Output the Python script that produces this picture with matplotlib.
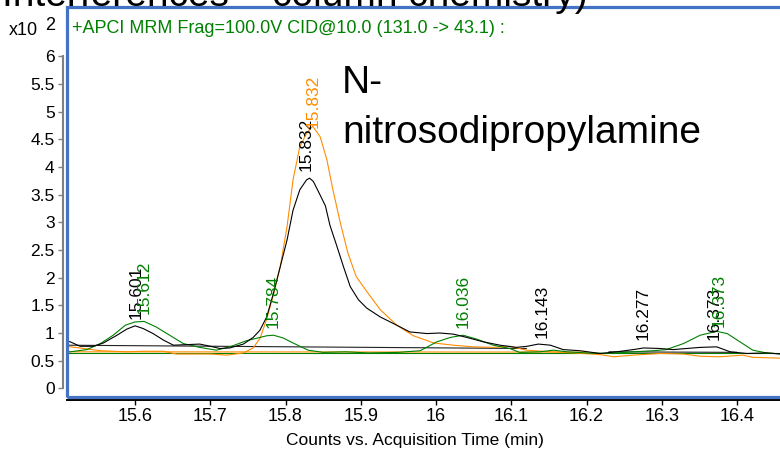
import numpy as np
import matplotlib
matplotlib.use('Agg')
import matplotlib.pyplot as plt
from matplotlib.patches import Rectangle

plt.rcParams['font.family'] = ['Liberation Sans', 'DejaVu Sans']

# retention time (min) and counts (x10^2) for each trace
t_black = [15.505, 15.514, 15.527, 15.545, 15.558, 15.576, 15.589, 15.600, 15.611, 15.624,
           15.638, 15.651, 15.669, 15.686, 15.700, 15.713, 15.726, 15.744, 15.757, 15.766,
           15.775, 15.784, 15.793, 15.802, 15.810, 15.819, 15.828, 15.832, 15.837, 15.844,
           15.853, 15.859, 15.868, 15.877, 15.886, 15.897, 15.908, 15.926, 15.948, 15.965,
           15.988, 16.005, 16.023, 16.041, 16.063, 16.085, 16.107, 16.121, 16.136, 16.152,
           16.169, 16.191, 16.218, 16.240, 16.262, 16.276, 16.298, 16.315, 16.333, 16.351,
           16.373, 16.391, 16.413, 16.439, 16.470]
y_black = [0.87, 0.84, 0.76, 0.76, 0.82, 0.96, 1.07, 1.13, 1.08, 0.99,
           0.87, 0.78, 0.79, 0.80, 0.76, 0.72, 0.73, 0.80, 0.92, 1.05,
           1.29, 1.72, 2.20, 2.68, 3.22, 3.59, 3.77, 3.80, 3.74, 3.55,
           3.30, 2.95, 2.58, 2.20, 1.84, 1.60, 1.45, 1.29, 1.14, 1.02,
           0.99, 1.00, 0.98, 0.92, 0.84, 0.78, 0.74, 0.76, 0.80, 0.78,
           0.70, 0.68, 0.63, 0.66, 0.70, 0.73, 0.72, 0.70, 0.72, 0.74,
           0.75, 0.66, 0.63, 0.64, 0.61]

t_orange = [15.505, 15.514, 15.532, 15.554, 15.589, 15.610, 15.638, 15.655, 15.700, 15.722,
            15.744, 15.757, 15.766, 15.775, 15.784, 15.793, 15.802, 15.810, 15.819, 15.828,
            15.836, 15.846, 15.855, 15.863, 15.872, 15.883, 15.894, 15.908, 15.926, 15.948,
            15.970, 15.997, 16.023, 16.050, 16.076, 16.098, 16.120, 16.152, 16.183, 16.218,
            16.236, 16.262, 16.298, 16.329, 16.351, 16.377, 16.408, 16.421, 16.470]
y_orange = [0.79, 0.75, 0.72, 0.68, 0.66, 0.67, 0.67, 0.62, 0.62, 0.60,
            0.64, 0.73, 0.90, 1.25, 1.70, 2.20, 2.92, 3.77, 4.37, 4.61,
            4.74, 4.55, 4.13, 3.59, 3.04, 2.44, 2.02, 1.75, 1.42, 1.14,
            0.95, 0.82, 0.78, 0.75, 0.74, 0.76, 0.69, 0.66, 0.64, 0.61,
            0.57, 0.60, 0.63, 0.62, 0.58, 0.57, 0.60, 0.56, 0.54]

t_green = [15.505, 15.514, 15.536, 15.554, 15.571, 15.587, 15.600, 15.612, 15.628, 15.646,
           15.664, 15.686, 15.708, 15.726, 15.748, 15.775, 15.784, 15.797, 15.810, 15.830,
           15.850, 15.880, 15.910, 15.950, 15.979, 16.001, 16.019, 16.036, 16.054, 16.076,
           16.098, 16.111, 16.138, 16.156, 16.174, 16.200, 16.227, 16.262, 16.289, 16.306,
           16.329, 16.351, 16.373, 16.387, 16.404, 16.421, 16.439, 16.470]
y_green = [0.65, 0.66, 0.70, 0.81, 0.96, 1.14, 1.20, 1.21, 1.11, 0.96,
           0.81, 0.74, 0.69, 0.75, 0.86, 0.95, 0.96, 0.91, 0.82, 0.69,
           0.65, 0.66, 0.64, 0.65, 0.68, 0.84, 0.92, 0.96, 0.89, 0.78,
           0.72, 0.65, 0.66, 0.69, 0.66, 0.64, 0.63, 0.66, 0.68, 0.70,
           0.81, 0.96, 1.03, 0.99, 0.84, 0.69, 0.64, 0.61]

# integration baselines
base_black_t = [15.505, 16.120]
base_black_y = [0.78, 0.72]
base_black2_t = [16.230, 16.400]
base_black2_y = [0.66, 0.65]
base_green_t = [15.505, 16.470]
base_green_y = [0.645, 0.645]
base_orange_t = [15.505, 16.200]
base_orange_y = [0.66, 0.655]

# peak labels
peak_times = [15.601, 15.612, 15.784, 15.832, 15.832, 16.036, 16.143, 16.277, 16.373, 16.373]
peak_trace = ['black', 'green', 'green', 'black', 'orange', 'green', 'black', 'black', 'black', 'green']

colors = {'black': '#000000', 'orange': '#ff8c00', 'green': '#008000'}
traces = {'black': (t_black, y_black), 'orange': (t_orange, y_orange), 'green': (t_green, y_green)}

fig = plt.figure(figsize=(7.8, 4.53), dpi=100)
W, H = 780, 453
ax = fig.add_axes([67 / W, (H - 397) / H, (785 - 67) / W, (397 - 7) / H])

ax.plot(base_green_t, base_green_y, color=colors['green'], lw=0.8)
ax.plot(base_orange_t, base_orange_y, color=colors['orange'], lw=0.8)
ax.plot(base_black_t, base_black_y, color='#222222', lw=0.8)
ax.plot(base_black2_t, base_black2_y, color='#222222', lw=0.8)
for name in ['orange', 'green', 'black']:
    t, y = traces[name]
    ax.plot(t, y, color=colors[name], lw=0.8)

dx_list = [0, 0, 0, -2.5, 2.5, 0, -1, -1, -1.5, 1.5]
dy_list = [5, 5.5, 5, 5, 1.5, 5, 5, 5.5, 5, 3]
for tm, name, dx, dy in zip(peak_times, peak_trace, dx_list, dy_list):
    t, y = traces[name]
    yv = np.interp(tm, t, y)
    ax.annotate('%.3f' % tm, xy=(tm, yv), xytext=(dx, dy), textcoords='offset points',
                rotation=90, ha='center', va='bottom', fontsize=12.5, color=colors[name])

ax.set_xlim(15.5096, 16.4638)
ax.set_ylim(-0.157, 6.895)

ax.spines['top'].set_visible(False)
ax.spines['right'].set_visible(False)
ax.spines['left'].set_position(('outward', 2.9))
ax.spines['left'].set_bounds(0, 6)
ax.spines['left'].set_color('#808080')
ax.spines['left'].set_linewidth(1.5)
ax.spines['bottom'].set_position(('outward', 2.2))
ax.spines['bottom'].set_color('black')
ax.spines['bottom'].set_linewidth(1.4)

yt = np.arange(0, 6.01, 0.5)
ax.set_yticks(yt)
ax.set_yticklabels(['%g' % v for v in yt])
xt = [15.6, 15.7, 15.8, 15.9, 16.0, 16.1, 16.2, 16.3, 16.4]
ax.set_xticks(xt)
ax.set_xticklabels(['%g' % v for v in xt], fontsize=13)
ax.tick_params(axis='y', direction='out', length=3.5, width=1, color='#808080', labelsize=12.5, pad=2.5)
ax.tick_params(axis='x', direction='out', length=3.5, width=1, color='black', pad=2)

# blue frame
ax.add_patch(Rectangle((0, 0), 1, 1, transform=ax.transAxes, fill=False,
                       edgecolor='#4472c4', lw=2.3, clip_on=False, zorder=10))

fig.text(415 / W, 1 - 440 / H, 'Counts vs. Acquisition Time (min)', ha='center', va='center',
         fontsize=12.5)
fig.text(9 / W, 1 - 35 / H, 'x10', fontsize=13, va='baseline')
fig.text(45 / W, 1 - 30 / H, '2', fontsize=13, va='baseline')
fig.text(72 / W, 1 - 33 / H, '+APCI MRM Frag=100.0V CID@10.0 (131.0 -> 43.1) :',
         fontsize=13, color='#008000', va='baseline')
fig.text(342 / W, 1 - 93 / H, 'N-', fontsize=28, va='baseline')
fig.text(342 / W, 1 - 143 / H, 'nitrosodipropylamine', fontsize=28, va='baseline')
fig.text(2 / W, 1 - 6 / H, 'Interferences \u2013 column chemistry)', fontsize=28, va='baseline')

fig.savefig('out.png', dpi=100)
